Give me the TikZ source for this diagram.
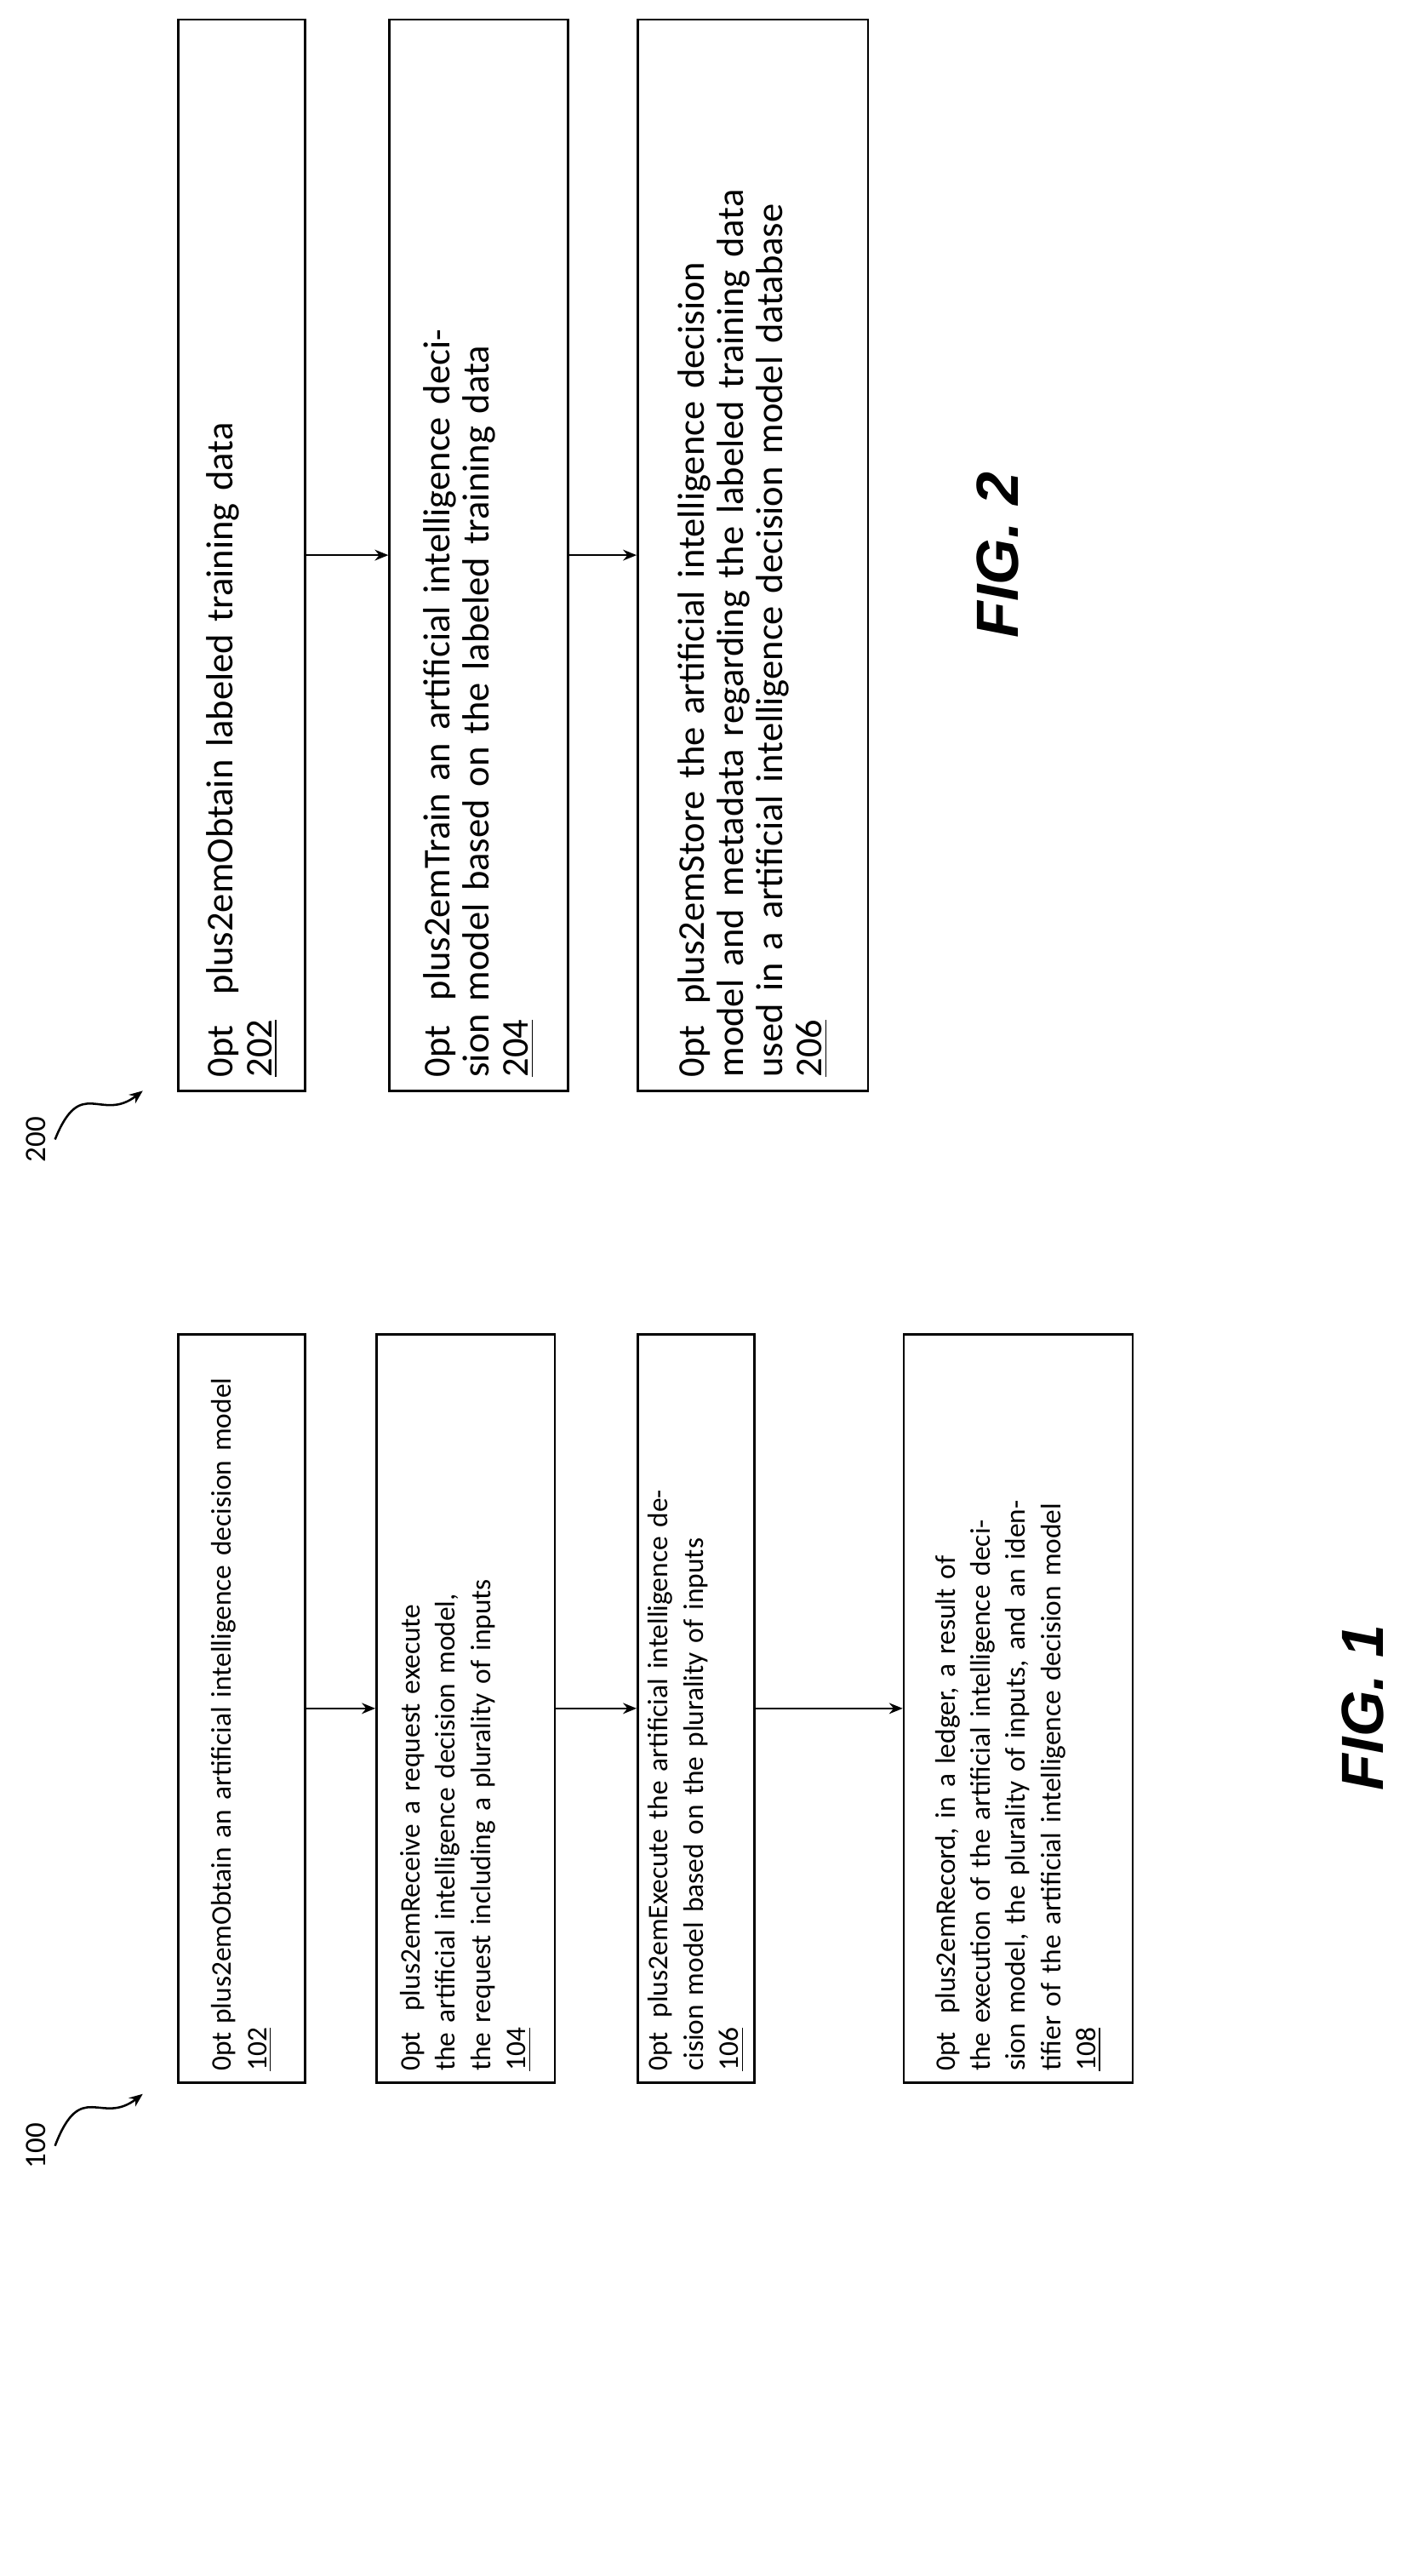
\documentclass[tikz,border=0pt]{standalone}
\usepackage{fontspec}
\setmainfont{Carlito}
\newfontfamily\figfont{Liberation Sans}
\usetikzlibrary{arrows.meta,positioning}
\begin{document}
\begin{tikzpicture}[
		x=0.6pt, y=-0.6pt,
		box/.style = {rectangle, draw=black, thick, rotate=90, anchor=center,
			text width=268pt, align=center, inner sep=2pt,
			font=\fontsize{10.5}{13}\selectfont\hyphenpenalty=10000},
		wide/.style = {text width=386pt, font=\fontsize{14}{14.5}\selectfont\hyphenpenalty=10000},
		line/.style = {draw, thick, -{Stealth[length=5pt,width=4pt]}},
		fig/.style  = {rotate=90, font=\figfont\fontsize{22}{24}\selectfont\bfseries\itshape},
		refnum/.style = {rotate=90, font=\fontsize{11}{12}\selectfont},
	]
	\useasboundingbox (0,0) rectangle (880,1587);
	% FIG. 1
	\begin{scope}
		\node [box, minimum width=276.6pt, minimum height=46.8pt] (s102) at (149,1052.5) {Obtain an artificial intelligence decision model\\ \underline{102}};
		\node [box, minimum width=276.6pt, minimum height=66pt] (s104) at (287,1052.5) {Receive a request execute the artificial intelligence decision model, the request including a plurality of inputs\\ \underline{104}};
		\node [box, minimum width=276.6pt, minimum height=43.2pt] (s106) at (429,1052.5) {Execute the artificial intelligence decision model based on the plurality of inputs\\ \underline{106}};
		\node [box, minimum width=276.6pt, minimum height=84.6pt] (s108) at (627.5,1052.5) {Record, in a ledger, a result of the execution of the artificial intelligence decision model, the plurality of inputs, and an identifier of the artificial intelligence decision model\\ \underline{108}};
		\node [fig] (fig1) at (840,1052) {FIG. 1};
		\node [refnum] (n100) at (22,1322) {100};
		\coordinate (p100) at (88,1290);
	\end{scope}
	% FIG. 2
	\begin{scope}
		\node [box, wide, minimum width=396pt, minimum height=46.8pt] (s202) at (149,342) {Obtain labeled training data\\ \underline{202}};
		\node [box, wide, minimum width=396pt, minimum height=66pt] (s204) at (295,342) {Train an artificial intelligence decision model based on the labeled training data\\ \underline{204}};
		\node [box, wide, minimum width=396pt, minimum height=85.2pt] (s206) at (464,342) {Store the artificial intelligence decision model and metadata regarding the labeled training data used in a artificial intelligence decision model database\\ \underline{206}};
		\node [fig] (fig2) at (615,342) {FIG. 2};
		\node [refnum] (n200) at (22,702) {200};
		\coordinate (p200) at (88,672);
	\end{scope}
	% connectors
	\begin{scope} [every path/.style=line]
		\path (s102) -- (s104);
		\path (s104) -- (s106);
		\path (s106) -- (s108);
		\path (s202) -- (s204);
		\path (s204) -- (s206);
		\path (n100.south) .. controls (50,1280) and (62,1310) .. (p100);
		\path (n200.south) .. controls (50,662) and (62,692) .. (p200);
	\end{scope}
\end{tikzpicture}
\end{document}
